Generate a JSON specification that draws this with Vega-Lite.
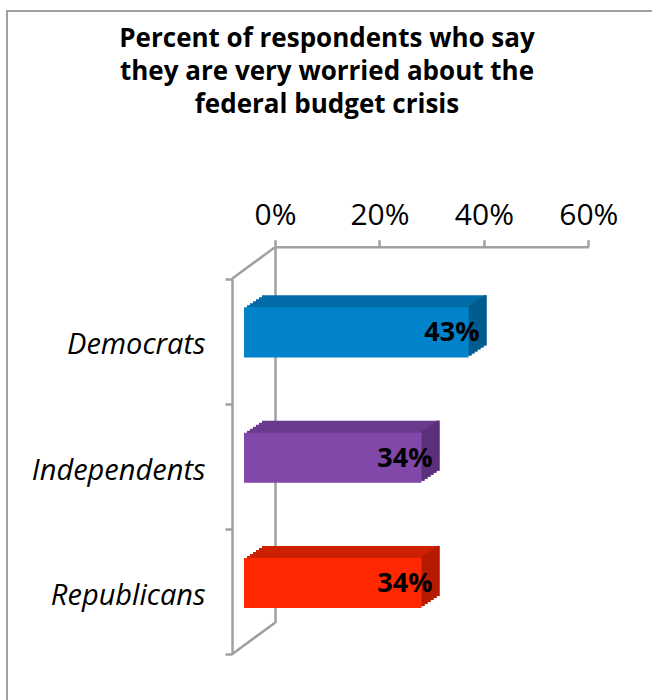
{
  "$schema": "https://vega.github.io/schema/vega-lite/v6.json",
  "width": 650,
  "height": 694,
  "autosize": {"type": "none"},
  "padding": {"left": 7, "top": 11, "right": 0, "bottom": 0},
  "background": "#ffffff",
  "config": {
    "view": {"stroke": "#A0A0A0", "strokeWidth": 2},
    "font": "Open Sans",
    "text": {"font": "Open Sans"}
  },
  "title": {
    "text": ["Percent of respondents who say", "they are very worried about the", "federal budget crisis"],
    "font": "Open Sans",
    "fontSize": 26,
    "fontWeight": "bold",
    "color": "#000000",
    "anchor": "middle",
    "frame": "group",
    "baseline": "top",
    "lineHeight": 33,
    "offset": -15,
    "dy": 92,
    "dx": -5
  },
  "data": {
    "values": [
      {"party": "Democrats", "pct": 0.43},
      {"party": "Independents", "pct": 0.34},
      {"party": "Republicans", "pct": 0.34}
    ]
  },
  "layer": [
    {
      "encoding": {
        "y": {
          "field": "party",
          "type": "nominal",
          "sort": ["Democrats", "Independents", "Republicans"],
          "scale": {"type": "band", "domain": ["Democrats", "Independents", "Republicans"], "range": [235.7, 611.7], "paddingInner": 0.6, "paddingOuter": 0.3},
          "axis": {"orient": "left", "offset": -268, "ticks": false, "tickSize": 0, "domainColor": "#A0A0A0", "domainWidth": 2.5, "labelPadding": 70, "labelOffset": 36, "labelFontSize": 29, "labelFontStyle": "italic", "labelFont": "Open Sans", "labelColor": "#000000", "title": null, "grid": false}
        },
        "x": {
          "field": "pct",
          "type": "quantitative",
          "scale": {"domain": [0, 0.6], "range": [268, 581.3], "nice": false, "zero": false},
          "axis": {"orient": "top", "offset": -235.7, "values": [0, 0.2, 0.4, 0.6], "format": ".0%", "labelFlush": false, "labelOverlap": false, "tickSize": 7, "domainColor": "#A0A0A0", "tickColor": "#A0A0A0", "domainWidth": 2.5, "tickWidth": 2.5, "labelFontSize": 30, "labelFont": "Open Sans", "labelPadding": 9, "labelColor": "#000000", "grid": false, "title": null}
        }
      },
      "layer": [
        {
          "encoding": {
            "color": {"field": "party", "type": "nominal", "scale": {"domain": ["Democrats", "Independents", "Republicans"], "range": ["#006BA6", "#6A3A8E", "#CC2000"]}, "legend": null}
          },
          "layer": [
            {"mark": {"type": "bar", "xOffset": -13, "x2Offset": -13, "yOffset": 11, "y2Offset": 11}},
            {"mark": {"type": "bar", "xOffset": -16, "x2Offset": -16, "yOffset": 13, "y2Offset": 13}},
            {"mark": {"type": "bar", "xOffset": -19, "x2Offset": -19, "yOffset": 15, "y2Offset": 15}},
            {"mark": {"type": "bar", "xOffset": -22, "x2Offset": -22, "yOffset": 17, "y2Offset": 17}},
            {"mark": {"type": "bar", "xOffset": -25, "x2Offset": -25, "yOffset": 19, "y2Offset": 19}},
            {"mark": {"type": "bar", "xOffset": -28, "x2Offset": -28, "yOffset": 21, "y2Offset": 21}}
          ]
        },
        {
          "encoding": {
            "x2": {"field": "pct"},
            "color": {"field": "party", "type": "nominal", "scale": {"domain": ["Democrats", "Independents", "Republicans"], "range": ["#005A8C", "#5A2F78", "#B31A00"]}, "legend": null}
          },
          "layer": [
            {"mark": {"type": "rect", "xOffset": -16, "x2Offset": -13, "yOffset": 11, "y2Offset": 11}},
            {"mark": {"type": "rect", "xOffset": -19, "x2Offset": -16, "yOffset": 13, "y2Offset": 13}},
            {"mark": {"type": "rect", "xOffset": -22, "x2Offset": -19, "yOffset": 15, "y2Offset": 15}},
            {"mark": {"type": "rect", "xOffset": -25, "x2Offset": -22, "yOffset": 17, "y2Offset": 17}},
            {"mark": {"type": "rect", "xOffset": -28, "x2Offset": -25, "yOffset": 19, "y2Offset": 19}},
            {"mark": {"type": "rect", "xOffset": -31, "x2Offset": -28, "yOffset": 21, "y2Offset": 21}}
          ]
        },
        {
          "mark": {"type": "bar", "xOffset": -31, "x2Offset": -31, "yOffset": 23, "y2Offset": 23},
          "encoding": {
            "color": {"field": "party", "type": "nominal", "scale": {"domain": ["Democrats", "Independents", "Republicans"], "range": ["#0083CA", "#8147A9", "#FF2800"]}, "legend": null}
          }
        },
        {
          "mark": {"type": "text", "align": "right", "baseline": "middle", "xOffset": -20, "yOffset": 24, "fontSize": 27, "fontWeight": "bold", "font": "Open Sans", "color": "#000000"},
          "encoding": {
            "text": {"field": "pct", "type": "quantitative", "format": ".0%"}
          }
        }
      ],
      "resolve": {"scale": {"color": "independent"}}
    },
    {
      "data": {"values": [{}]},
      "encoding": {
        "x": {
          "datum": 0,
          "type": "quantitative",
          "scale": {"domain": [0, 0.6], "range": [268, 581.3], "nice": false, "zero": false},
          "axis": {"orient": "top", "offset": -235.7, "values": [0, 0.2, 0.4, 0.6], "format": ".0%", "labelFlush": false, "labelOverlap": false, "tickSize": 7, "domainColor": "#A0A0A0", "tickColor": "#A0A0A0", "domainWidth": 2.5, "tickWidth": 2.5, "labelFontSize": 30, "labelFont": "Open Sans", "labelPadding": 9, "labelColor": "#000000", "grid": false, "title": null}
        },
        "x2": {"datum": 0}
      },
      "layer": [
        {
          "mark": {"type": "rule", "xOffset": -43, "y2Offset": -31.5, "color": "#A0A0A0", "strokeWidth": 2.5},
          "encoding": {
            "y": {
              "datum": 0,
              "type": "quantitative",
              "scale": {"domain": [0, 3], "range": [267.7, 643.2], "nice": false, "zero": false},
              "axis": {"orient": "left", "offset": -225, "values": [0, 1, 2, 3], "labels": false, "grid": false, "tickSize": 7, "domainColor": "#A0A0A0", "tickColor": "#A0A0A0", "domainWidth": 2.5, "tickWidth": 2.5, "title": null}
            },
            "y2": {"datum": 0}
          }
        },
        {
          "mark": {"type": "rule", "xOffset": -43, "y2Offset": -31.5, "color": "#A0A0A0", "strokeWidth": 2.5},
          "encoding": {
            "y": {"datum": 3, "type": "quantitative"},
            "y2": {"datum": 3}
          }
        }
      ]
    }
  ],
  "resolve": {"scale": {"y": "independent"}}
}
